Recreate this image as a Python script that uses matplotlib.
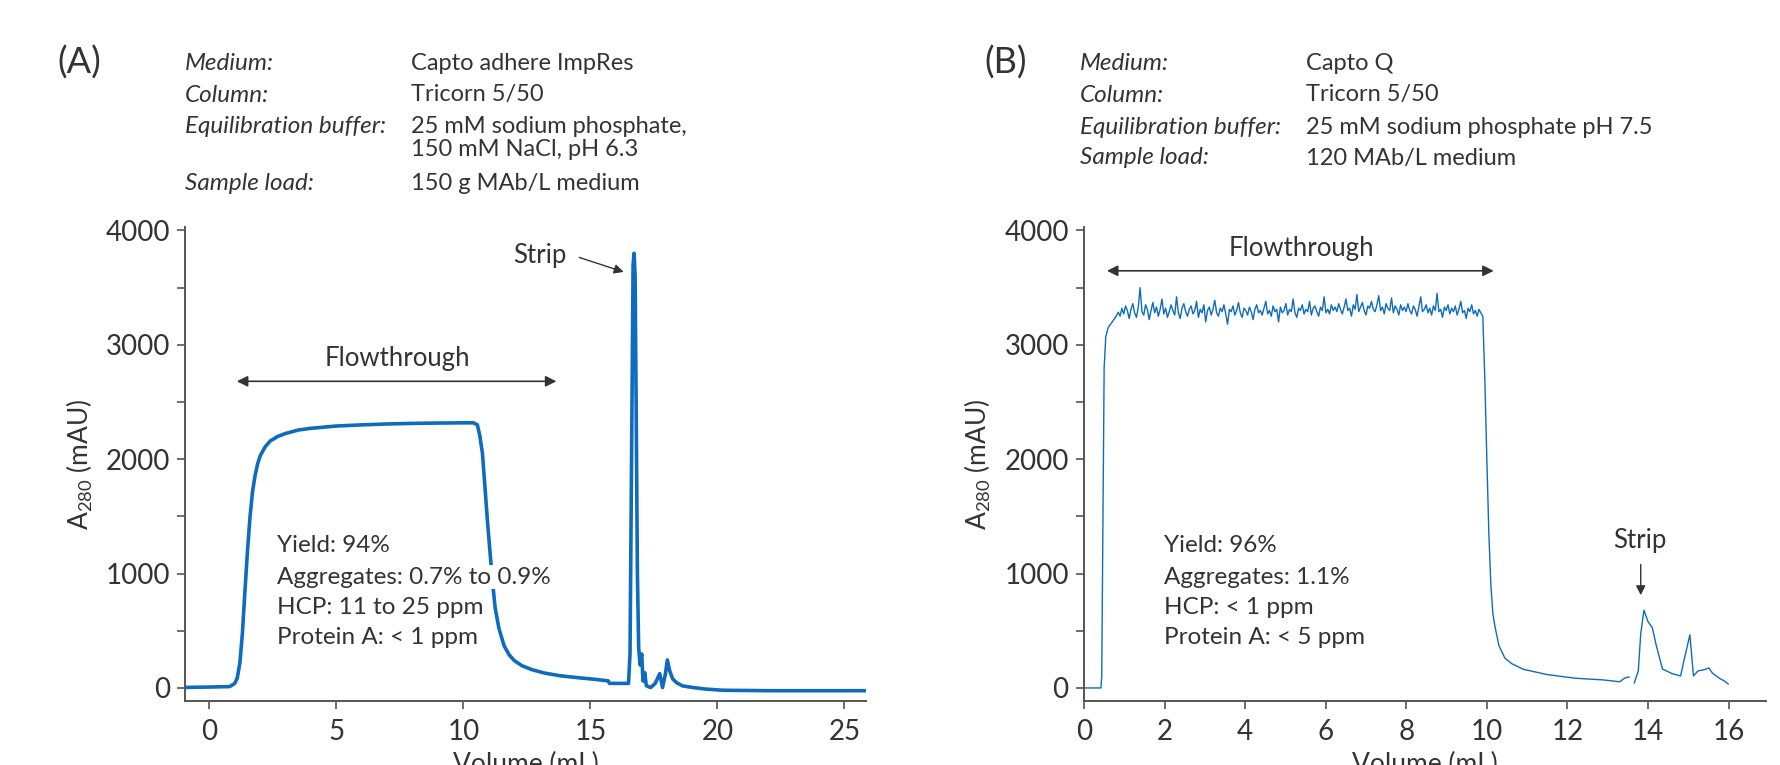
import numpy as np
import matplotlib
matplotlib.use('Agg')
import matplotlib.pyplot as plt
from matplotlib.ticker import MultipleLocator

plt.rcParams['font.family'] = ['Lato', 'DejaVu Sans']
plt.rcParams['mathtext.fontset'] = 'custom'
plt.rcParams['mathtext.rm'] = 'Lato'
plt.rcParams['mathtext.default'] = 'regular'

TEXT = '#333333'
SPINE = '#555555'
BLUE = '#0f6cbd'

# -- (A) Capto adhere ImpRes run --
a_vol = [-0.9, 0.0, 0.8, 1.0, 1.1, 1.2, 1.3, 1.4, 1.5, 1.6, 1.7, 1.8, 1.9, 2.0, 2.2, 2.4,
         2.7, 3.0, 3.5, 4.0, 5.0, 6.0, 7.0, 8.0, 9.0, 10.0, 10.4, 10.55, 10.65, 10.75, 10.85,
         10.95, 11.05, 11.15, 11.25, 11.4, 11.6, 11.8, 12.0, 12.3, 12.7, 13.2, 13.8, 14.5,
         15.2, 15.7, 15.75, 16.5, 16.56, 16.62, 16.68, 16.72, 16.76, 16.8, 16.85, 16.9,
         16.96, 17.02, 17.07, 17.14, 17.2, 17.37, 17.55, 17.73, 17.84, 17.95, 18.03, 18.12,
         18.24, 18.4, 18.63, 19.0, 19.5, 20.2, 22.0, 25.9]
a_abs = [5, 8, 12, 40, 90, 220, 480, 850, 1200, 1500, 1720, 1860, 1960, 2030, 2110, 2160,
         2200, 2225, 2255, 2270, 2290, 2300, 2308, 2313, 2316, 2318, 2318, 2300, 2200, 2050,
         1750, 1450, 1180, 920, 700, 520, 370, 290, 240, 195, 160, 130, 107, 90,
         75, 62, 40, 40, 300, 2000, 3700, 3800, 3600, 2500, 1000, 350,
         200, 297, 60, 134, 20, 3, 40, 125, 3, 120, 245, 150,
         79, 45, 18, 5, -9, -20, -24, -24]

# -- (B) Capto Q run --
b_rise_vol = [0.0, 0.42, 0.44, 0.47, 0.5, 0.54, 0.6, 0.7, 0.8]
b_rise_abs = [0, 0, 100, 1500, 2800, 3070, 3150, 3200, 3250]
b_plateau_range = (0.85, 9.85)
b_plateau_abs = [
    3285, 3250, 3320, 3270, 3340, 3300, 3230, 3310, 3360, 3280, 3240, 3330, 3500, 3290, 3260, 3350, 3310, 3220, 3300, 3370,
    3280, 3330, 3250, 3310, 3400, 3270, 3320, 3240, 3290, 3350, 3300, 3260, 3420, 3280, 3230, 3320, 3360, 3290, 3250, 3310,
    3340, 3270, 3300, 3380, 3240, 3310, 3280, 3350, 3200, 3300, 3330, 3260, 3310, 3390, 3280, 3250, 3320, 3290, 3350, 3270,
    3180, 3310, 3290, 3340, 3260, 3300, 3370, 3280, 3240, 3320, 3300, 3260, 3330, 3290, 3220, 3310, 3350, 3280, 3300, 3260,
    3320, 3380, 3270, 3300, 3250, 3340, 3290, 3310, 3200, 3330, 3280, 3300, 3360, 3260, 3310, 3290, 3400, 3280, 3240, 3320,
    3300, 3350, 3270, 3310, 3290, 3380, 3260, 3320, 3340, 3290, 3250, 3330, 3300, 3420, 3280, 3310, 3270, 3350, 3300, 3330,
    3290, 3360, 3310, 3270, 3330, 3400, 3300, 3320, 3250, 3350, 3310, 3440, 3290, 3330, 3370, 3300, 3260, 3340, 3320, 3380,
    3310, 3290, 3350, 3430, 3300, 3330, 3270, 3360, 3320, 3300, 3410, 3280, 3340, 3310, 3260, 3350, 3300, 3330, 3290, 3360,
    3300, 3270, 3340, 3310, 3250, 3330, 3420, 3290, 3310, 3350, 3280, 3320, 3260, 3340, 3300, 3450, 3290, 3310, 3240, 3330,
    3300, 3350, 3270, 3320, 3290, 3340, 3260, 3310, 3380, 3280, 3300, 3230, 3320, 3290, 3350, 3270, 3300, 3250, 3310, 3280,
]
b_tail_vol = [9.9, 9.95, 10.0, 10.05, 10.1, 10.15, 10.2, 10.3, 10.45, 10.62, 10.9, 11.2, 11.5,
              12.2, 12.9, 13.3, 13.43, 13.53, 13.6, 13.66, 13.76, 13.82, 13.9, 14.0, 14.11,
              14.2, 14.36, 14.6, 14.81, 14.9, 15.04, 15.13, 15.24, 15.4, 15.51, 15.6, 15.76,
              15.9, 15.99]
b_tail_abs = [3250, 2700, 2000, 1350, 900, 650, 540, 370, 260, 212, 164, 140, 117,
              85, 70, 54, 88, 96, np.nan, 44, 149, 473, 680, 580, 525,
              380, 166, 125, 105, 250, 464, 105, 149, 160, 175, 130, 88,
              60, 35]

b_plateau_vol = np.linspace(*b_plateau_range, len(b_plateau_abs))
b_vol = np.concatenate([b_rise_vol, b_plateau_vol, b_tail_vol])
b_abs = np.concatenate([b_rise_abs, b_plateau_abs, b_tail_abs])

stats_a = ['Yield: 94%', 'Aggregates: 0.7% to 0.9%', 'HCP: 11 to 25 ppm', 'Protein A: < 1 ppm']
stats_b = ['Yield: 96%', 'Aggregates: 1.1%', 'HCP: < 1 ppm', 'Protein A: < 5 ppm']
stats_y = [1244, 969, 707, 439]

header_a = [('Medium:', 'Capto adhere ImpRes'),
            ('Column:', 'Tricorn 5/50'),
            ('Equilibration buffer:', '25 mM sodium phosphate,'),
            ('', '150 mM NaCl, pH 6.3'),
            ('Sample load:', '150 g MAb/L medium')]
header_b = [('Medium:', 'Capto Q'),
            ('Column:', 'Tricorn 5/50'),
            ('Equilibration buffer:', '25 mM sodium phosphate pH 7.5'),
            ('Sample load:', '120 MAb/L medium')]

W, H = 1780, 765
fig = plt.figure(figsize=(W / 100, H / 100), dpi=100)
ax_a = fig.add_axes([185.4 / W, 64 / H, 680.6 / W, 474 / H])
ax_b = fig.add_axes([1084 / W, 64 / H, 682 / W, 474 / H])


def style_axes(ax, xlim, xstep):
    ax.set_xlim(*xlim)
    ax.set_ylim(-114, 4030)
    for s in ['top', 'right']:
        ax.spines[s].set_visible(False)
    for s in ['left', 'bottom']:
        ax.spines[s].set_color(SPINE)
        ax.spines[s].set_linewidth(1.4)
    ax.xaxis.set_major_locator(MultipleLocator(xstep))
    ax.yaxis.set_major_locator(MultipleLocator(1000))
    ax.yaxis.set_minor_locator(MultipleLocator(500))
    ax.tick_params(which='both', color=SPINE, width=1.2, length=6, labelsize=20, labelcolor=TEXT)
    ax.tick_params(axis='x', pad=7)
    ax.tick_params(axis='y', pad=5)
    ax.set_xlabel('Volume (mL)', fontsize=19, color=TEXT, labelpad=5)
    ax.set_ylabel('A$_{280}$ (mAU)', fontsize=19, color=TEXT, labelpad=8)


style_axes(ax_a, (-0.945, 25.85), 5)
style_axes(ax_b, (0, 16.93), 2)

ax_a.plot(a_vol, a_abs, color=BLUE, lw=2.6, solid_joinstyle='round', zorder=2)
ax_b.plot(b_vol, b_abs, color=BLUE, lw=1.0, zorder=2)

arrow_kw = dict(arrowstyle='<|-|>', color=TEXT, lw=1.2, mutation_scale=16, shrinkA=0, shrinkB=0)
ax_a.annotate('', xy=(1.08, 2681), xytext=(13.66, 2681), arrowprops=arrow_kw)
ax_a.text(7.42, 2880, 'Flowthrough', ha='center', va='center', fontsize=18.5, color=TEXT)
ax_a.text(13.0, 3780, 'Strip', ha='center', va='center', fontsize=18.5, color=TEXT)
ax_a.annotate('', xy=(16.31, 3637), xytext=(14.56, 3764),
              arrowprops=dict(arrowstyle='-|>', color=TEXT, lw=1.0, mutation_scale=14,
                              shrinkA=0, shrinkB=0))

ax_b.annotate('', xy=(0.57, 3647), xytext=(10.17, 3647), arrowprops=arrow_kw)
ax_b.text(5.39, 3843, 'Flowthrough', ha='center', va='center', fontsize=18.5, color=TEXT)
ax_b.text(13.79, 1285, 'Strip', ha='center', va='center', fontsize=18.5, color=TEXT)
ax_b.annotate('', xy=(13.82, 811), xytext=(13.82, 1080),
              arrowprops=dict(arrowstyle='-|>', color=TEXT, lw=1.0, mutation_scale=14,
                              shrinkA=0, shrinkB=0))

for ax, lines, x0 in [(ax_a, stats_a, 2.65), (ax_b, stats_b, 1.98)]:
    for line, y in zip(lines, stats_y):
        ax.text(x0, y, line, ha='left', va='center', fontsize=17.5, color=TEXT, zorder=3,
                bbox=dict(facecolor='white', edgecolor='none', pad=1.0))

# header blocks
for panel, (lx, kx, vx), rows, ys in [
        ('(A)', (57, 185, 411), header_a, [63, 95, 126.7, 150, 183.3]),
        ('(B)', (984, 1080, 1306), header_b, [63, 95, 127, 158])]:
    fig.text(lx / W, 1 - 63 / H, panel, ha='left', va='center', fontsize=26, color=TEXT)
    for (key, val), y in zip(rows, ys):
        if key:
            fig.text(kx / W, 1 - y / H, key, ha='left', va='center', fontsize=17.5,
                     style='italic', color=TEXT)
        fig.text(vx / W, 1 - y / H, val, ha='left', va='center', fontsize=17, color=TEXT)

fig.savefig('out.png', dpi=100)
